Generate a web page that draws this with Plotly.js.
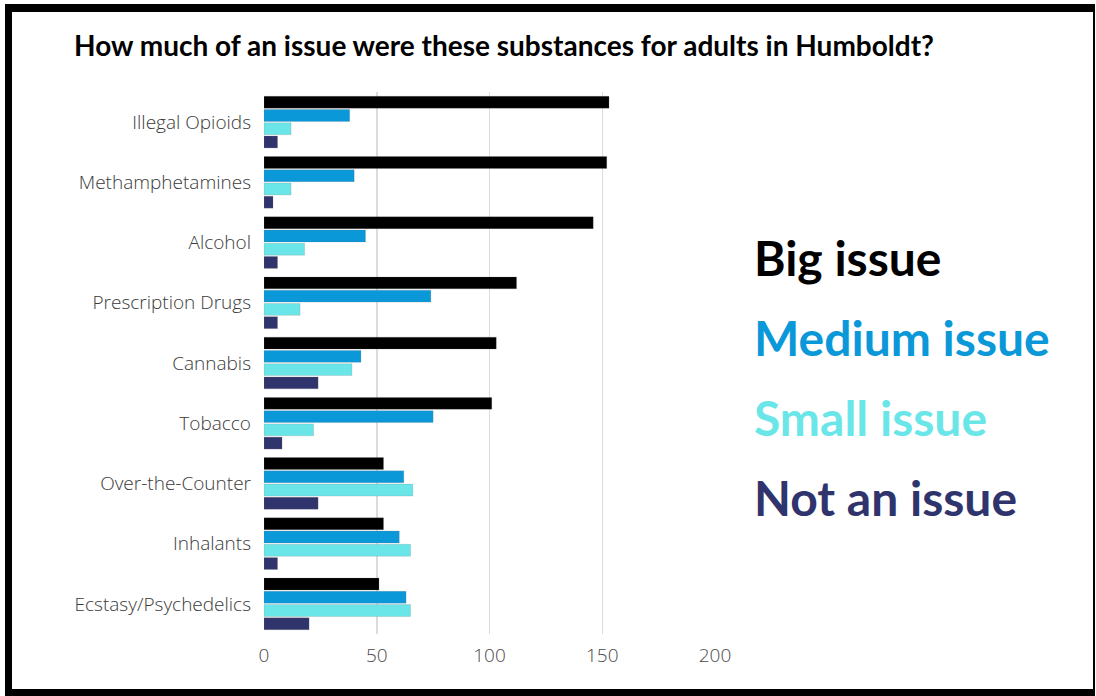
<!DOCTYPE html>
<html>
<head>
<meta charset="utf-8">
<script src="https://cdn.plot.ly/plotly-3.0.1.min.js"></script>
<style>
  html, body { margin: 0; padding: 0; background: #ffffff; }
  #chart { position: absolute; left: 0; top: 0; width: 1096px; height: 696px; }
  #frame { position: absolute; left: 5px; top: 4px; width: 1081px; height: 677px;
           border-left: 7px solid #000; border-top: 8px solid #000;
           border-right: 2px solid #000; border-bottom: 7px solid #000;
           pointer-events: none; }
</style>
</head>
<body>
<div id="chart"></div>
<div id="frame"></div>
<script>
const categories = ["Illegal Opioids", "Methamphetamines", "Alcohol", "Prescription Drugs", "Cannabis", "Tobacco", "Over-the-Counter", "Inhalants", "Ecstasy/Psychedelics"];
const bigIssue    = [153, 152, 146, 112, 103, 101, 53, 53, 51];
const mediumIssue = [38, 40, 45, 74, 43, 75, 62, 60, 63];
const smallIssue  = [12, 12, 18, 16, 39, 22, 66, 65, 65];
const notAnIssue  = [6, 4, 6, 6, 24, 8, 24, 6, 20];
const seriesNames = ["Big issue", "Medium issue", "Small issue", "Not an issue"];
const xTicks = [0, 50, 100, 150, 200];

const colors = ["#000000", "#0a98d9", "#6be6e8", "#30346c"];
const seriesValues = [bigIssue, mediumIssue, smallIssue, notAnIssue];

const traces = seriesValues.map((vals, i) => ({
  type: "bar",
  orientation: "h",
  name: seriesNames[i],
  y: categories,
  x: vals,
  marker: { color: colors[i], line: { color: "rgba(120,120,120,0.35)", width: 0.6 } },
  hoverinfo: "x+name"
}));

const legendY = [257, 337, 417, 497];
const annotations = seriesNames.map((n, i) => ({
  xref: "paper", yref: "paper",
  x: (752 - 264) / 451,
  y: 1 - (legendY[i] - 92) / 542,
  xanchor: "left", yanchor: "middle",
  text: "<b>" + n + "</b>",
  showarrow: false,
  font: { family: "Lato, 'Open Sans', sans-serif", size: 48, color: colors[i] }
}));

const layout = {
  width: 1096, height: 696,
  paper_bgcolor: "#ffffff", plot_bgcolor: "#ffffff",
  margin: { l: 264, r: 381, t: 92, b: 62, pad: 0 },
  showlegend: false,
  barmode: "group",
  bargap: 0.12,
  bargroupgap: 0.1,
  title: {
    text: "<b>How much of an issue were these substances for adults in Humboldt?</b>",
    xref: "container", yref: "container",
    x: 74 / 1096, xanchor: "left",
    y: 1 - 46 / 696, yanchor: "middle",
    font: { family: "Lato, 'Open Sans', sans-serif", size: 28, color: "#000000" }
  },
  xaxis: {
    range: [0, 200],
    tickvals: xTicks,
    ticktext: xTicks.map(String),
    showgrid: true, gridcolor: "#dcdcdc", gridwidth: 1.5,
    zeroline: false, showline: false,
    ticks: "", ticklabelstandoff: 8,
    tickfont: { family: "'Open Sans', sans-serif", size: 19, color: "#4a4a4a", weight: 300 }
  },
  yaxis: {
    autorange: "reversed",
    showgrid: false, zeroline: false, showline: false,
    ticks: "", ticklabelstandoff: 12,
    tickfont: { family: "'Open Sans', sans-serif", size: 19, color: "#3a3a3a", weight: 300 }
  },
  annotations: annotations
};

Plotly.newPlot("chart", traces, layout, { displayModeBar: false, staticPlot: true });
</script>
</body>
</html>
